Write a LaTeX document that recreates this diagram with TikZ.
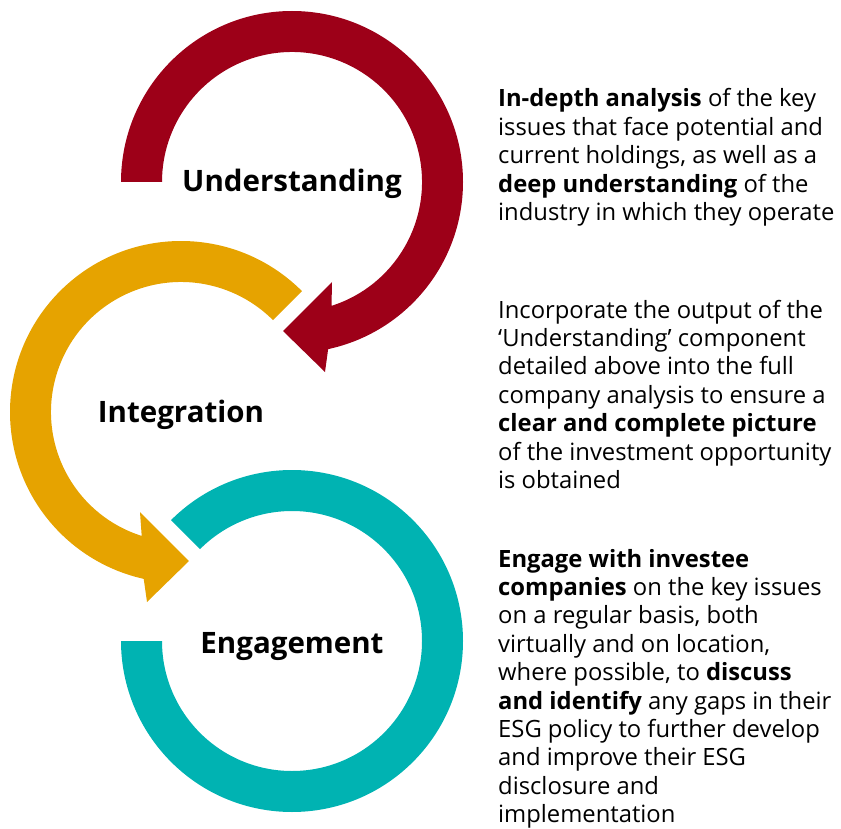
\documentclass[tikz,border=0pt]{standalone}
\usepackage{fontspec}
\setmainfont{Open Sans}
\definecolor{understand}{RGB}{157,0,24}
\definecolor{integrate}{RGB}{230,163,0}
\definecolor{engage}{RGB}{0,179,178}

\begin{document}
\begin{tikzpicture}[x=1pt,y=1pt,
    stage/.style={font=\fontsize{29.5}{36}\selectfont\bfseries,inner sep=0pt,anchor=base},
    desc/.style={font=\fontsize{23.8}{28.4}\selectfont,align=left,inner sep=0pt,anchor=base west}]
    \useasboundingbox (0,0) rectangle (841,-829);
    % centres of the three rings
    \coordinate (cu) at (292,-182);
    \coordinate (ci) at (181,-412);
    \coordinate (ce) at (292,-641);
    % Understanding: clockwise, head at lower right
    \fill[understand,shift={(cu)}] (180:171) arc[start angle=180,end angle=-77.8,radius=171]
        -- (33,-190) -- (-9,-149) -- (40,-100)
        -- (-72.3:130) arc[start angle=-72.3,end angle=180,radius=130] -- cycle;
    % Integration: anticlockwise, head at lower right
    \fill[integrate,shift={(ci)}] (45:171) arc[start angle=45,end angle=257.4,radius=171]
        -- (-34,-190) -- (8,-149) -- (-41,-100)
        -- (252.4:130) arc[start angle=252.4,end angle=45,radius=130] -- cycle;
    % Engagement: open ring, no head
    \fill[engage,shift={(ce)}] (135:171) arc[start angle=135,end angle=-180,radius=171]
        -- (180:130) arc[start angle=-180,end angle=135,radius=130] -- cycle;
    \node[stage] (understanding) at (292,-192) {Understanding};
    \node[stage] (integration) at (181,-422) {Integration};
    \node[stage] (engagement) at (292,-653) {Engagement};
    % base anchor sits on the last line
    \node[desc] (understandtext) at (498,-220.6) {\textbf{In-depth analysis} of the key\\
        issues that face potential and\\
        current holdings, as well as a\\
        \textbf{deep understanding} of the\\
        industry in which they operate};
    \node[desc] (integratetext) at (498,-488.4) {Incorporate the output of the\\
        ‘Understanding’ component\\
        detailed above into the full\\
        company analysis to ensure a\\
        \textbf{clear and complete picture}\\
        of the investment opportunity\\
        is obtained};
    \node[desc] (engagetext) at (498,-822.6) {\textbf{Engage with investee}\\
        \textbf{companies} on the key issues\\
        on a regular basis, both\\
        virtually and on location,\\
        where possible, to \textbf{discuss}\\
        \textbf{and identify} any gaps in their\\
        ESG policy to further develop\\
        and improve their ESG\\
        disclosure and\\
        implementation};
\end{tikzpicture}
\end{document}
